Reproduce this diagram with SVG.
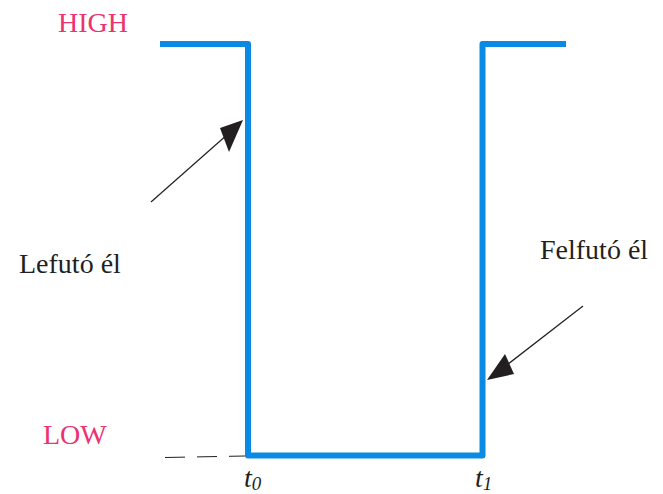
<svg xmlns="http://www.w3.org/2000/svg" width="663" height="494" viewBox="0 0 663 494">
<style>
.lbl{font-family:"Liberation Serif","Times New Roman",serif;font-size:28px;fill:#231f20}
.lvl{font-family:"Liberation Serif","Times New Roman",serif;font-size:28px;fill:#ec3370}
.t{font-family:"Liberation Serif","Times New Roman",serif;font-style:italic;fill:#231f20}
.ptr{stroke:#231f20;stroke-width:1.2;fill:none}
.head{fill:#231f20}
</style>
<rect width="663" height="494" fill="#ffffff"/>
<g id="signal">
<path d="M160,44 H248 V455.5 H482.5 V44 H566" fill="none" stroke="#0a8ae2" stroke-width="6" stroke-linejoin="round"/>
</g>
<g id="connectors">
<line class="ptr" x1="151" y1="202" x2="228" y2="134"/>
<polygon class="head" points="243,120 220,128 229,152"/>
<line class="ptr" x1="583" y1="306" x2="503" y2="368"/>
<polygon class="head" points="487,380 505,354 514,374"/>
<line x1="165" y1="457.5" x2="245" y2="456" stroke="#231f20" stroke-width="1" stroke-dasharray="20,12"/>
</g>
<g id="high"><text class="lvl" x="58" y="32">HIGH</text></g>
<g id="low"><text class="lvl" x="43" y="444">LOW</text></g>
<g id="lefuto"><text class="lbl" x="19" y="273">Lefutó él</text></g>
<g id="felfuto"><text class="lbl" x="540" y="259">Felfutó él</text></g>
<g id="t0"><text class="t" x="244" y="487" font-size="28">t<tspan font-size="19" dy="3">0</tspan></text></g>
<g id="t1"><text class="t" x="475" y="487" font-size="28">t<tspan font-size="19" dy="3">1</tspan></text></g>
</svg>
